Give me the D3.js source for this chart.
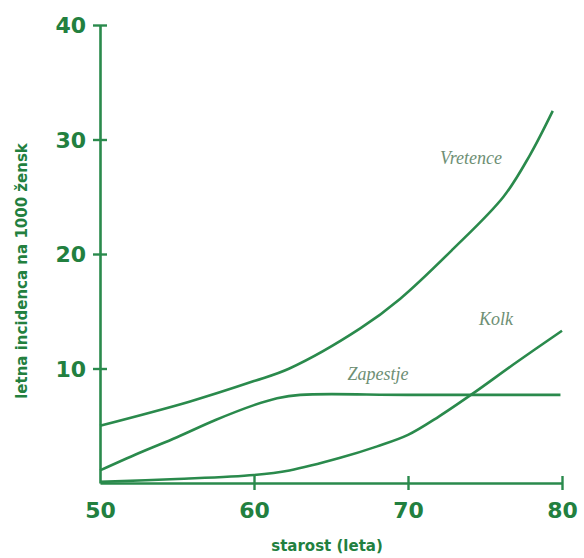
<!DOCTYPE html>
<html><head><meta charset="utf-8">
<script src="https://cdn.jsdelivr.net/npm/d3@7"></script>
<style>body{margin:0;background:#fff}svg{display:block}</style>
</head><body>
<svg id="c" width="584" height="558"></svg>
<script>
const xTicks = [50, 60, 70, 80];
const yTicks = [10, 20, 30, 40];
const vretenceAge = [50, 55.8, 60, 62.3, 66.9, 69.5, 72.9, 76.2, 77.9, 79.4];
const vretenceVal = [5.0, 7.1, 8.9, 10.0, 13.5, 16.1, 20.4, 25.0, 28.6, 32.5];
const zapestjeAge = [50, 52.5, 55, 57.5, 60, 61.5, 63, 70, 79.9];
const zapestjeVal = [1.1, 2.6, 4.0, 5.5, 6.8, 7.4, 7.7, 7.7, 7.7];
const kolkAge = [50, 55, 60, 62.3, 65.6, 68, 70, 72, 74.2, 77, 80];
const kolkVal = [0.1, 0.35, 0.7, 1.1, 2.2, 3.2, 4.2, 5.8, 7.8, 10.5, 13.3];
const seriesLabels = ["Vretence", "Zapestje", "Kolk"];
const labelPos = [[471, 28.4], [378, 9.6], [496, 14.4]];

const green = "#2a8a4c", textGreen = "#22803f", labelColor = "#6e8f74";
const svg = d3.select("#c");
const x = d3.scaleLinear().domain([50, 80]).range([100, 562]);
const y = d3.scaleLinear().domain([0, 40]).range([483, 25]);

// axes
const gx = svg.append("g").attr("transform", `translate(0,${y(0)})`)
  .call(d3.axisBottom(x).tickValues(xTicks).tickSize(0).tickPadding(19).tickFormat(d3.format("d")));
const gy = svg.append("g").attr("transform", `translate(${x(50)},0)`)
  .call(d3.axisLeft(y).tickValues(yTicks).tickSize(0).tickPadding(14).tickFormat(d3.format("d")));
[gx, gy].forEach(g => {
  g.select(".domain").attr("stroke", green).attr("stroke-width", 2.6);
  g.selectAll("text").attr("fill", textGreen).attr("font-family", "DejaVu Sans")
    .attr("font-weight", "bold").attr("font-size", 22);
});
gx.selectAll("text").attr("dy", "0.71em");
gy.selectAll("text").attr("dy", "0.36em");
// crossing tick marks
gx.selectAll(".tick").filter(d => d !== 50).append("line")
  .attr("y1", -7).attr("y2", 7).attr("stroke", green).attr("stroke-width", 2.4);
gy.selectAll(".tick").append("line")
  .attr("x1", -7).attr("x2", 7).attr("stroke", green).attr("stroke-width", 2.4);

// titles
svg.append("text").attr("x", 327).attr("y", 546).attr("dy", "0.36em")
  .attr("text-anchor", "middle").attr("fill", textGreen)
  .attr("font-family", "DejaVu Sans").attr("font-weight", "bold").attr("font-size", 15)
  .text("starost (leta)");
svg.append("text").attr("transform", "translate(22,271) rotate(-90)").attr("dy", "0.36em")
  .attr("text-anchor", "middle").attr("fill", textGreen)
  .attr("font-family", "DejaVu Sans").attr("font-weight", "bold").attr("font-size", 15)
  .text("letna incidenca na 1000 žensk");

// lines
const line = d3.line().x(d => x(d[0])).y(d => y(d[1])).curve(d3.curveCatmullRom.alpha(0.5));
const series = [
  d3.zip(vretenceAge, vretenceVal),
  d3.zip(zapestjeAge, zapestjeVal),
  d3.zip(kolkAge, kolkVal)
];
svg.selectAll("path.s").data(series).join("path").attr("class", "s")
  .attr("d", line).attr("fill", "none").attr("stroke", green).attr("stroke-width", 2.6);

svg.selectAll("text.lbl").data(seriesLabels).join("text").attr("class", "lbl")
  .attr("x", (d, i) => labelPos[i][0]).attr("y", (d, i) => y(labelPos[i][1]))
  .attr("dy", "0.36em").attr("text-anchor", "middle")
  .attr("font-family", "Liberation Serif").attr("font-style", "italic").attr("font-size", 18)
  .attr("fill", labelColor).text(d => d);
</script>
</body></html>
